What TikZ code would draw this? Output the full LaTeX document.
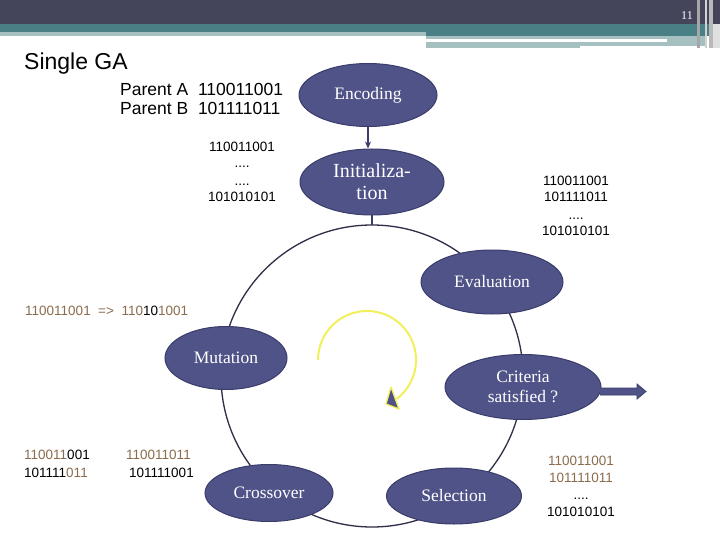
\documentclass[tikz,border=0pt]{standalone}
\usepackage{fontspec}
\newfontfamily\arial{Liberation Sans}
\newfontfamily\stagefont{Liberation Serif}
\usetikzlibrary{arrows.meta,shapes.geometric}
\definecolor{hdr}{HTML}{44445A}
\definecolor{tealband}{HTML}{4A8085}
\definecolor{lightteal}{HTML}{A6C0C2}
\definecolor{ellfill}{HTML}{505388}
\definecolor{elldraw}{HTML}{3A3C6A}
\definecolor{ringcol}{HTML}{2E2E48}
\definecolor{brownbit}{HTML}{8C6C4E}
\definecolor{yel}{HTML}{F2F05A}
\tikzset{
  stage/.style={ellipse, fill=ellfill, draw=elldraw, line width=1pt, text=white,
    font=\stagefont\fontsize{17.5}{20}\selectfont, align=center, inner sep=0pt},
  conn/.style={draw=elldraw, line width=1.5pt},
  bits/.style={font=\arial\fontsize{13.5}{17}\selectfont, inner sep=0pt},
}
\begin{document}
\begin{tikzpicture}[x=1pt,y=-1pt]
\useasboundingbox (0,0) rectangle (720,540);
\fill[white] (0,0) rectangle (720,540);
% header
\fill[hdr] (0,0) rectangle (720,24);
\fill[tealband] (0,24) rectangle (720,32);
\fill[tealband] (426,32) rectangle (720,36);
\fill[lightteal] (0,32) rectangle (426,36);
\fill[lightteal] (426,36) rectangle (707,46);
\fill[lightteal] (426,46) rectangle (580,48);
\fill[white] (426,39) rectangle (667,42);
\fill[black!12] (713,24) rectangle (720,48);
\fill[gray!70] (697,0) rectangle (700,48);
\fill[gray!35] (705,0) rectangle (707,48);
\fill[gray!55] (709,0) rectangle (713,48);
\node[text=white, font=\stagefont\fontsize{12}{14}\selectfont, inner sep=0pt] (pg) at (687,16) {11};
% title and texts
\node[font=\arial\fontsize{23}{26}\selectfont, anchor=base west, inner sep=0pt] (title) at (24,70) {Single GA};
\node[font=\arial\fontsize{17.5}{19}\selectfont, anchor=base west, align=left, inner sep=0pt] (parents) at (120,115) {Parent A~~110011001\\Parent B~~101111011};
% ring
\draw[ringcol, line width=1.3pt] (372,376) circle[radius=151pt];
\coordinate (top) at (372,225);
% stages
\node[stage, minimum width=138pt, minimum height=63pt] (enc) at (368,95) {Encoding};
\node[stage, minimum width=144pt, minimum height=66pt, font=\stagefont\fontsize{20}{22}\selectfont] (init) at (372,182) {Initializa-\\tion};
\node[stage, minimum width=142pt, minimum height=64pt] (eval) at (492,282) {Evaluation};
\node[stage, minimum width=156pt, minimum height=65pt] (crit) at (523,387) {Criteria\\satisfied ?};
\node[stage, minimum width=122pt, minimum height=63pt] (mut) at (226,358) {Mutation};
\node[stage, minimum width=128pt, minimum height=57pt] (cross) at (269,493) {Crossover};
\node[stage, minimum width=135pt, minimum height=56pt] (sel) at (454,496) {Selection};
% connectors
\draw[conn, -{Stealth[length=7pt,width=6pt]}] (enc.south) -- (enc.south |- init.north);
\draw[conn] (init.south) -- (top);
% exit block arrow
\draw[fill=ellfill, draw=elldraw, line width=0.8pt, line join=miter]
  (600,388) -- (637,388) -- (637,384) -- (646,391.5) -- (637,399) -- (637,395) -- (600,395);
% yellow loop
\draw[yel, line width=2pt] (318,360) arc[start angle=180, end angle=-53, radius=49pt] coordinate (yend);
\draw[yel, fill=ellfill, line width=1.3pt, line join=round] (391,387) -- (386,404) -- (399,409) -- cycle;
% bit strings
\node[bits, align=center, anchor=base] (inittxt) at (242,202) {110011001\\....\\....\\101010101};
\node[bits, align=center, anchor=base] (evaltxt) at (576,236) {110011001\\101111011\\....\\101010101};
\node[bits, anchor=base west] (muttxt) at (25,315) {\textcolor{brownbit}{110011001~~=>~~110}10\textcolor{brownbit}{1001}};
\node[bits, anchor=base west] (xa) at (24,459) {\textcolor{brownbit}{110011}001};
\node[bits, anchor=base west] (xb) at (24,477) {101111\textcolor{brownbit}{011}};
\node[bits, anchor=base west] (xc) at (126,459) {\textcolor{brownbit}{110011011}};
\node[bits, anchor=base west] (xd) at (129,477) {101111001};
\node[bits, align=center, anchor=base] (seltxt) at (581,516) {\textcolor{brownbit}{110011001}\\\textcolor{brownbit}{101111011}\\....\\101010101};
\end{tikzpicture}
\end{document}
